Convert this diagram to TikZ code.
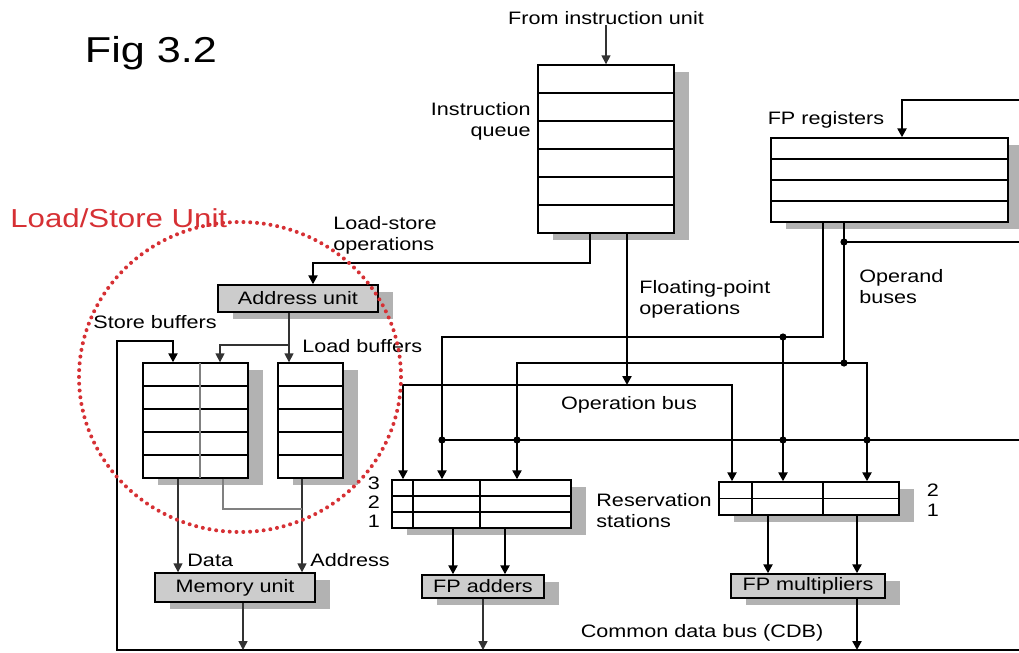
\documentclass[tikz,border=0pt]{standalone}
\usepackage{fontspec}
\setmainfont{Liberation Sans}[FakeStretch=1.2]
\usetikzlibrary{arrows.meta, positioning, calc, shadows}

\definecolor{lsred}{RGB}{214,48,52}

\begin{document}
\begin{tikzpicture}[x=0.5pt, y=-0.5pt,
    regfile/.style={rectangle, draw, line width=0.7pt, fill=white, inner sep=0pt, drop shadow={shadow xshift=7.5pt, shadow yshift=-3.5pt, fill=gray!60, opacity=1}},
    unit/.style={regfile, fill=gray!40, font=\fontsize{9}{10}\selectfont},
    lbl/.style={font=\fontsize{9}{10.5}\selectfont, inner sep=0pt},
    bus/.style={line width=1.3pt},
    wire/.style={line width=0.8pt, gray!40!black},
    row/.style={line width=0.7pt},
    arr/.style={-{Triangle[length=4.5pt,width=4.5pt]}},
    arrtwo/.style={{Triangle[length=4.5pt,width=4.5pt]}-{Triangle[length=4.5pt,width=4.5pt]}},
  ]
    \useasboundingbox (0,0) rectangle (1019,653);

    % Titles
    \node[font=\fontsize{18}{20}\selectfont] (title) at (151,53) {Fig 3.2};
    \node[font=\fontsize{13}{15}\selectfont, text=lsred, anchor=west, inner sep=0pt] (lstitle) at (10,218) {Load/Store Unit};

    % Instruction queue
    \node[regfile, minimum width=68pt, minimum height=84pt] (queue) at (606,149) {};
    \draw[row] (538,93) -- (674,93) (538,121) -- (674,121) (538,149) -- (674,149) (538,177) -- (674,177) (538,205) -- (674,205);
    \node[lbl] (fromiu) at (606,18) {From instruction unit};
    \node[lbl, align=right, anchor=east] (iqlabel) at (531,121) {Instruction\\queue};

    % FP registers
    \node[regfile, minimum width=118.5pt, minimum height=42pt] (fpreg) at (889.5,180) {};
    \draw[row] (771,159) -- (1008,159) (771,180) -- (1008,180) (771,201) -- (1008,201);
    \node[lbl] (fpreglabel) at (826,120) {FP registers};

    % Load/store unit
    \node[unit, minimum width=80pt, minimum height=13.5pt] (addr) at (298,298.5) {Address unit};
    \node[regfile, minimum width=52.5pt, minimum height=57.5pt] (store) at (195.5,420.5) {};
    \draw[row] (143,386) -- (248,386) (143,409) -- (248,409) (143,432) -- (248,432) (143,455) -- (248,455);
    \draw[row, gray] (200,363) -- (200,478);
    \node[regfile, minimum width=32.5pt, minimum height=57.5pt] (load) at (310.5,420.5) {};
    \draw[row] (278,386) -- (343,386) (278,409) -- (343,409) (278,432) -- (343,432) (278,455) -- (343,455);
    \node[unit, minimum width=80pt, minimum height=14.5pt] (mem) at (235,587.5) {Memory unit};
    \node[lbl] (sblabel) at (155,322) {Store buffers};
    \node[lbl, anchor=west] (lblabel) at (302,346) {Load buffers};
    \node[lbl, anchor=west] (datalabel) at (187,560) {Data};
    \node[lbl, anchor=west] (addrlabel) at (310,560) {Address};

    % Reservation stations and FP units
    \node[regfile, minimum width=89.5pt, minimum height=24pt] (rsadd) at (481.5,504) {};
    \draw[row] (392,496) -- (571,496) (392,512) -- (571,512) (413,480) -- (413,528) (480,480) -- (480,528);
    \draw[line width=1.4pt] (392,480) -- (392,528);
    \node[regfile, minimum width=90pt, minimum height=16.5pt] (rsmul) at (809,498.5) {};
    \draw[row] (719,498.5) -- (899,498.5) (752,482) -- (752,515) (823,482) -- (823,515);
    \node[unit, minimum width=61pt, minimum height=11.5pt] (fpadd) at (483,586.5) {FP adders};
    \node[unit, minimum width=77pt, minimum height=12pt] (fpmul) at (808,586) {FP multipliers};
    \node[lbl] (n3) at (374,483) {3};
    \node[lbl] (n2) at (374,502) {2};
    \node[lbl] (n1) at (374,521) {1};
    \node[lbl] (m2) at (933,490) {2};
    \node[lbl] (m1) at (933,510) {1};
    \node[lbl, anchor=west, align=left] (rslabel) at (596,511) {Reservation\\stations};

    % Bus labels
    \node[lbl, anchor=west, align=left] (lsops) at (333,235) {Load-store\\operations};
    \node[lbl, anchor=west, align=left] (fpops) at (639,299) {Floating-point\\operations};
    \node[lbl, anchor=west, align=left] (operand) at (859,287) {Operand\\buses};
    \node[lbl] (opbuslabel) at (629,405) {Operation bus};
    \node[lbl] (cdblabel) at (702,633) {Common data bus (CDB)};

    % Instruction flow
    \coordinate (lsturn) at (313,263);
    \coordinate (fpop) at (627,385);
    \draw[wire, arr] (fromiu) -- (queue);
    \draw[bus, arr] ([xshift=-8pt]queue.south) |- (lsturn) -- (lsturn |- addr.north);
    \draw[bus, arr] (queue.south -| fpop) -- (fpop);

    % Operation bus
    \coordinate (opbusL) at (403,385);
    \coordinate (opbusR) at (732,385);
    \draw[bus, arrtwo] (opbusL |- rsadd.north) -- (opbusL) -- (opbusR) -- (opbusR |- rsmul.north);

    % FP registers in and out
    \coordinate (regin) at (1019,100);
    \coordinate (regturn) at (902,100);
    \draw[bus, arr] (regin) -- (regturn) -- (regturn |- fpreg.north);

    \coordinate (opaR) at (823,337);
    \coordinate (opaL) at (442,337);
    \coordinate (opab) at (783,337);
    \draw[bus, arr] (opaR |- fpreg.south) -- (opaR) -- (opaL) -- (opaL |- rsadd.north);
    \draw[bus, arr] (opab) -- (opab |- rsmul.north);

    \coordinate (opbT) at (844,242);
    \coordinate (opbM) at (844,363);
    \coordinate (opbL) at (517,363);
    \coordinate (opbR) at (867,363);
    \coordinate (opout) at (1019,242);
    \draw[bus] (opbT |- fpreg.south) -- (opbM);
    \draw[bus] (opbT) -- (opout);
    \draw[bus, arrtwo] (opbL |- rsadd.north) -- (opbL) -- (opbR) -- (opbR |- rsmul.north);

    % CDB to reservation stations
    \coordinate (cdbrsL) at (442,440);
    \coordinate (cdbrsR) at (1019,440);
    \draw[bus] (cdbrsL) -- (cdbrsR);
    \fill (opab) circle[radius=1.8pt];
    \fill (opbT) circle[radius=1.8pt];
    \fill (opbM) circle[radius=1.8pt];
    \fill (cdbrsL) circle[radius=1.8pt];
    \fill (opbL |- cdbrsL) circle[radius=1.8pt];
    \fill (opab |- cdbrsL) circle[radius=1.8pt];
    \fill (opbR |- cdbrsL) circle[radius=1.8pt];

    % Reservation stations to FP units
    \draw[bus, arr] ([xshift=-14.25pt]rsadd.south) -- ([xshift=-14.25pt]rsadd.south |- fpadd.north);
    \draw[bus, arr] ([xshift=11.75pt]rsadd.south) -- ([xshift=11.75pt]rsadd.south |- fpadd.north);
    \draw[bus, arr] ([xshift=-20.5pt]rsmul.south) -- ([xshift=-20.5pt]rsmul.south |- fpmul.north);
    \draw[bus, arr] ([xshift=24pt]rsmul.south) -- ([xshift=24pt]rsmul.south |- fpmul.north);

    % Common data bus
    \coordinate (cdbL) at (117,650);
    \coordinate (cdbR) at (1019,650);
    \coordinate (sbin) at (173,341);
    \draw[bus, arr] (cdbR) -- (cdbL) |- (sbin) -- (sbin |- store.north);
    \draw[wire, arr] ([xshift=4pt]mem.south) -- ([xshift=4pt]mem.south |- cdbL);
    \draw[wire, arr] (fpadd.south) -- (fpadd.south |- cdbL);
    \draw[bus, arr] ([xshift=24.5pt]fpmul.south) -- ([xshift=24.5pt]fpmul.south |- cdbL);

    % Inside the load/store unit
    \coordinate (abr) at (289,345);
    \coordinate (sbaddr) at (220,345);
    \coordinate (saddr) at (223,509);
    \draw[wire, arr] (abr |- addr.south) -- (abr |- load.north);
    \draw[wire, arr] (abr) -- (sbaddr) -- (sbaddr |- store.north);
    \draw[wire, arr] ([xshift=-8.75pt]store.south) -- ([xshift=-8.75pt]store.south |- mem.north);
    \draw[wire, arr] ([xshift=-4.25pt]load.south) -- ([xshift=-4.25pt]load.south |- mem.north);
    \draw[wire, gray] (saddr |- store.south) -- (saddr) -- ([xshift=-4.25pt]load.south |- saddr);

    % Load/store unit outline
    \draw[lsred, line width=2pt, dash pattern=on 0pt off 3.4pt, line cap=round] (240,377) ellipse [x radius=80.5pt, y radius=77.5pt];

  \end{tikzpicture}
\end{document}
